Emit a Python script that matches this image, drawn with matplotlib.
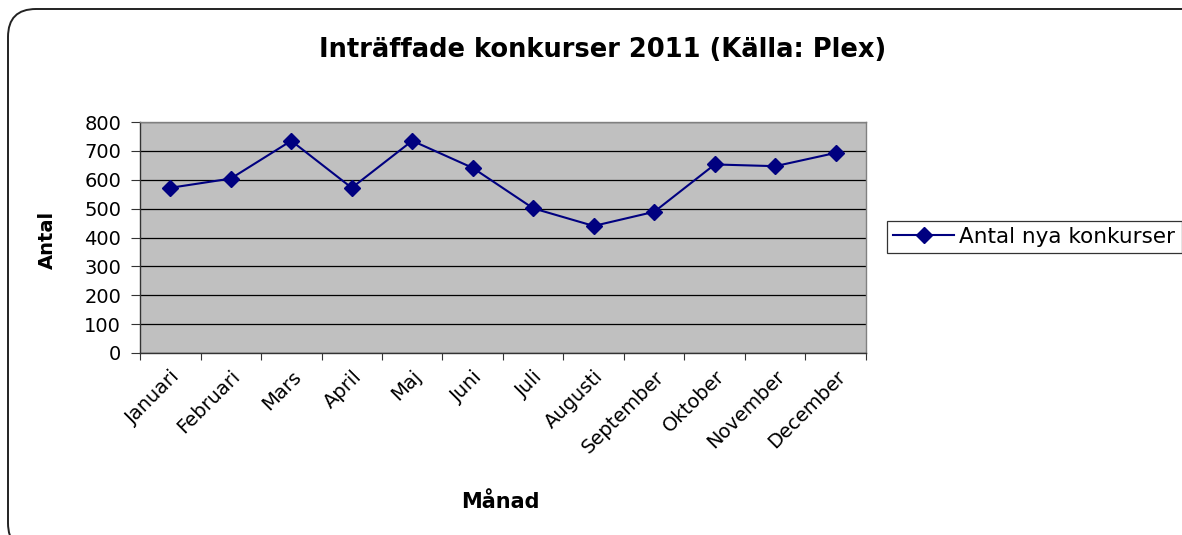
import matplotlib
matplotlib.use("Agg")
import matplotlib.pyplot as plt
from matplotlib.patches import FancyBboxPatch
from matplotlib.transforms import IdentityTransform

months = ["Januari", "Februari", "Mars", "April", "Maj", "Juni", "Juli",
          "Augusti", "September", "Oktober", "November", "December"]
values = [572, 604, 735, 572, 735, 641, 501, 440, 489, 653, 647, 693]
yticks = [0, 100, 200, 300, 400, 500, 600, 700, 800]

plt.rcParams['font.family'] = ['DejaVu Sans']

W, H = 1182, 535
fig = plt.figure(figsize=(W / 100, H / 100), dpi=100)
fig.patch.set_facecolor('white')

# rounded chart-area border (extends beyond the right/bottom edges)
border = FancyBboxPatch((8, -16), 1220, 535 - 9 + 16,
                        boxstyle="round,pad=0,rounding_size=28",
                        transform=IdentityTransform(), fill=False,
                        edgecolor='#222222', linewidth=1.4)
fig.patches.append(border)

ax = fig.add_axes([140 / W, 1 - 353 / H, (866 - 140) / W, (353 - 122) / H])
ax.set_facecolor('#C0C0C0')

x = list(range(len(months)))
line, = ax.plot(x, values, color='#000080', linewidth=1.5, marker='D',
                markersize=8, markerfacecolor='#000080',
                markeredgecolor='#000080', label='Antal nya konkurser',
                zorder=3)

ax.set_xlim(-0.5, len(months) - 0.5)
ax.set_ylim(0, 800)
ax.set_yticks(yticks)
ax.set_yticklabels([str(v) for v in yticks])
ax.yaxis.grid(True, color='black', linewidth=0.9)
ax.set_axisbelow(True)

ax.set_xticks(x)
ax.set_xticklabels(months, rotation=45, ha='right', va='top',
                   rotation_mode='anchor')
ax.set_xticks([i - 0.5 for i in range(len(months) + 1)], minor=True)
ax.tick_params(axis='x', which='major', length=0, pad=10, labelsize=14)
ax.tick_params(axis='x', which='minor', length=5, width=0.8, color='#333333')
ax.tick_params(axis='y', which='major', length=6.5, width=0.8,
               color='#333333', pad=7, labelsize=14)

for s in ['left', 'bottom']:
    ax.spines[s].set_color('#333333')
    ax.spines[s].set_linewidth(1.0)
for s in ['right', 'top']:
    ax.spines[s].set_color('#808080')
    ax.spines[s].set_linewidth(1.0)

fig.text(603 / W, 1 - 50 / H, 'Inträffade konkurser 2011 (Källa: Plex)',
         ha='center', va='center', fontsize=18.5, fontweight='bold')
fig.text(500 / W, 1 - 502 / H, 'Månad', ha='center', va='center',
         fontsize=15, fontweight='bold')
fig.text(47 / W, 1 - 240 / H, 'Antal', ha='center', va='center',
         rotation=90, fontsize=14, fontweight='bold')

leg = fig.legend(handles=[line], loc='center left',
                 bbox_to_anchor=(887 / W, 1 - 237 / H),
                 frameon=True, fancybox=False, fontsize=15.5,
                 handlelength=2.8, handletextpad=0.25, borderpad=0.3,
                 borderaxespad=0)
leg.get_frame().set_edgecolor('black')
leg.get_frame().set_linewidth(0.9)

fig.savefig('out.png', dpi=100)
